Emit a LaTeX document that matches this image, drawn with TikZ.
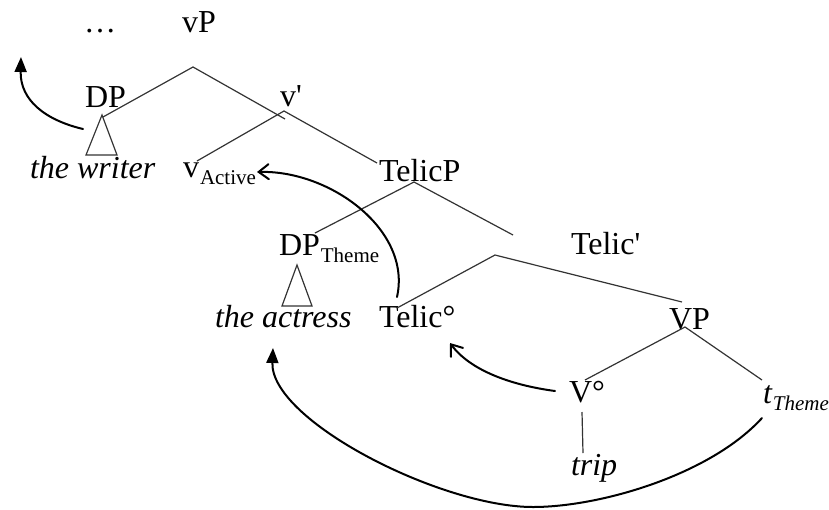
\documentclass[tikz,border=0pt]{standalone}
\usepackage{fontspec}
\setmainfont{Liberation Serif}
\usetikzlibrary{arrows.meta}
% lowered subscript in a smaller size
\newcommand\lowsub[1]{\hspace{1pt}\raisebox{-7pt}{\fontsize{21}{25}\selectfont #1}}
\begin{document}
\begin{tikzpicture}[x=1pt,y=-1pt,
  lbl/.style={anchor=base west,inner sep=0pt,outer sep=0pt,font=\fontsize{32}{38}\selectfont},
  branch/.style={line width=1.2pt,draw=black!80},
  move/.style={line width=2pt,line cap=round},
  filledhead/.style={-{Triangle[length=15pt,width=12pt]}},
  openhead/.style={-{Straight Barb[length=10pt,width=15pt,line cap=round]}}
]
\useasboundingbox (0,0) rectangle (829,509);

% labels
\node[lbl] (dots) at (84,32) {…};
\node[lbl] (vP) at (182,32) {vP};
\node[lbl] (DP) at (85,107) {DP};
\node[lbl] (vbar) at (280,106) {v\textquotesingle};
\node[lbl] (writer) at (30,178) {\itshape the writer};
\node[lbl] (vact) at (183,177) {v\lowsub{Active}};
\node[lbl] (TelicP) at (379,181) {TelicP};
\node[lbl] (DPth) at (279,255) {DP\lowsub{Theme}};
\node[lbl] (actress) at (215,327) {\itshape the actress};
\node[lbl] (Telic0) at (379,327) {Telic°};
\node[lbl] (Telicbar) at (571,254) {Telic\textquotesingle};
\node[lbl] (VP) at (669,329) {VP};
\node[lbl] (V0) at (569,402) {V°};
\node[lbl] (tth) at (763,403) {\itshape t\lowsub{Theme}};
\node[lbl] (trip) at (571,475) {\itshape trip};

% branch points
\coordinate (vPtop) at (193,67);
\coordinate (DPfoot) at (103,117);
\coordinate (vbarfoot) at (285,119);
\coordinate (vbartop) at (284,111);
\coordinate (vacttop) at (197,161);
\coordinate (TelicPfoot) at (377,163);
\coordinate (TelicPtop) at (414,182);
\coordinate (DPthfoot) at (315,233);
\coordinate (Telicbarfoot) at (513,235);
\coordinate (Telicbartop) at (495,255);
\coordinate (Telic0top) at (397,308);
\coordinate (VPfoot) at (682,302);
\coordinate (VPtop) at (685,327);
\coordinate (V0top) at (585,380);
\coordinate (tthtop) at (762,380);
\coordinate (V0foot) at (582,412);
\coordinate (triptop) at (583,453);

% tree branches
\draw[branch] (DPfoot) -- (vPtop) -- (vbarfoot);
\draw[branch] (vacttop) -- (vbartop) -- (TelicPfoot);
\draw[branch] (DPthfoot) -- (TelicPtop) -- (Telicbarfoot);
\draw[branch] (Telic0top) -- (Telicbartop) -- (VPfoot);
\draw[branch] (V0top) -- (VPtop) -- (tthtop);
\draw[branch] (V0foot) -- (triptop);

% triangles for the phrases
\draw[branch] (102,115) -- (86,155) -- (117,155) -- cycle;
\draw[branch] (297,265) -- (282,306) -- (312,306) -- cycle;

% movement arrows
\coordinate (wStart) at (83,129);
\coordinate (wTip) at (21,57);
\coordinate (tcStart) at (397,297);
\coordinate (tcTip) at (257,172);
\coordinate (vStart) at (555,391);
\coordinate (vTip) at (450,343);
\coordinate (thStart) at (762,418);
\coordinate (thLow) at (533,507);
\coordinate (thTip) at (273,348);

\draw[move,filledhead] (wStart) .. controls (45,120) and (20,100) .. (wTip);
\draw[move,openhead] (tcStart) .. controls (412,230) and (330,170) .. (tcTip);
\draw[move,openhead] (vStart) .. controls (510,385) and (470,370) .. (vTip);
\draw[move,filledhead] (thStart) .. controls (710,475) and (600,507) .. (thLow)
  .. controls (440,507) and (270,420) .. (thTip);
\end{tikzpicture}
\end{document}
